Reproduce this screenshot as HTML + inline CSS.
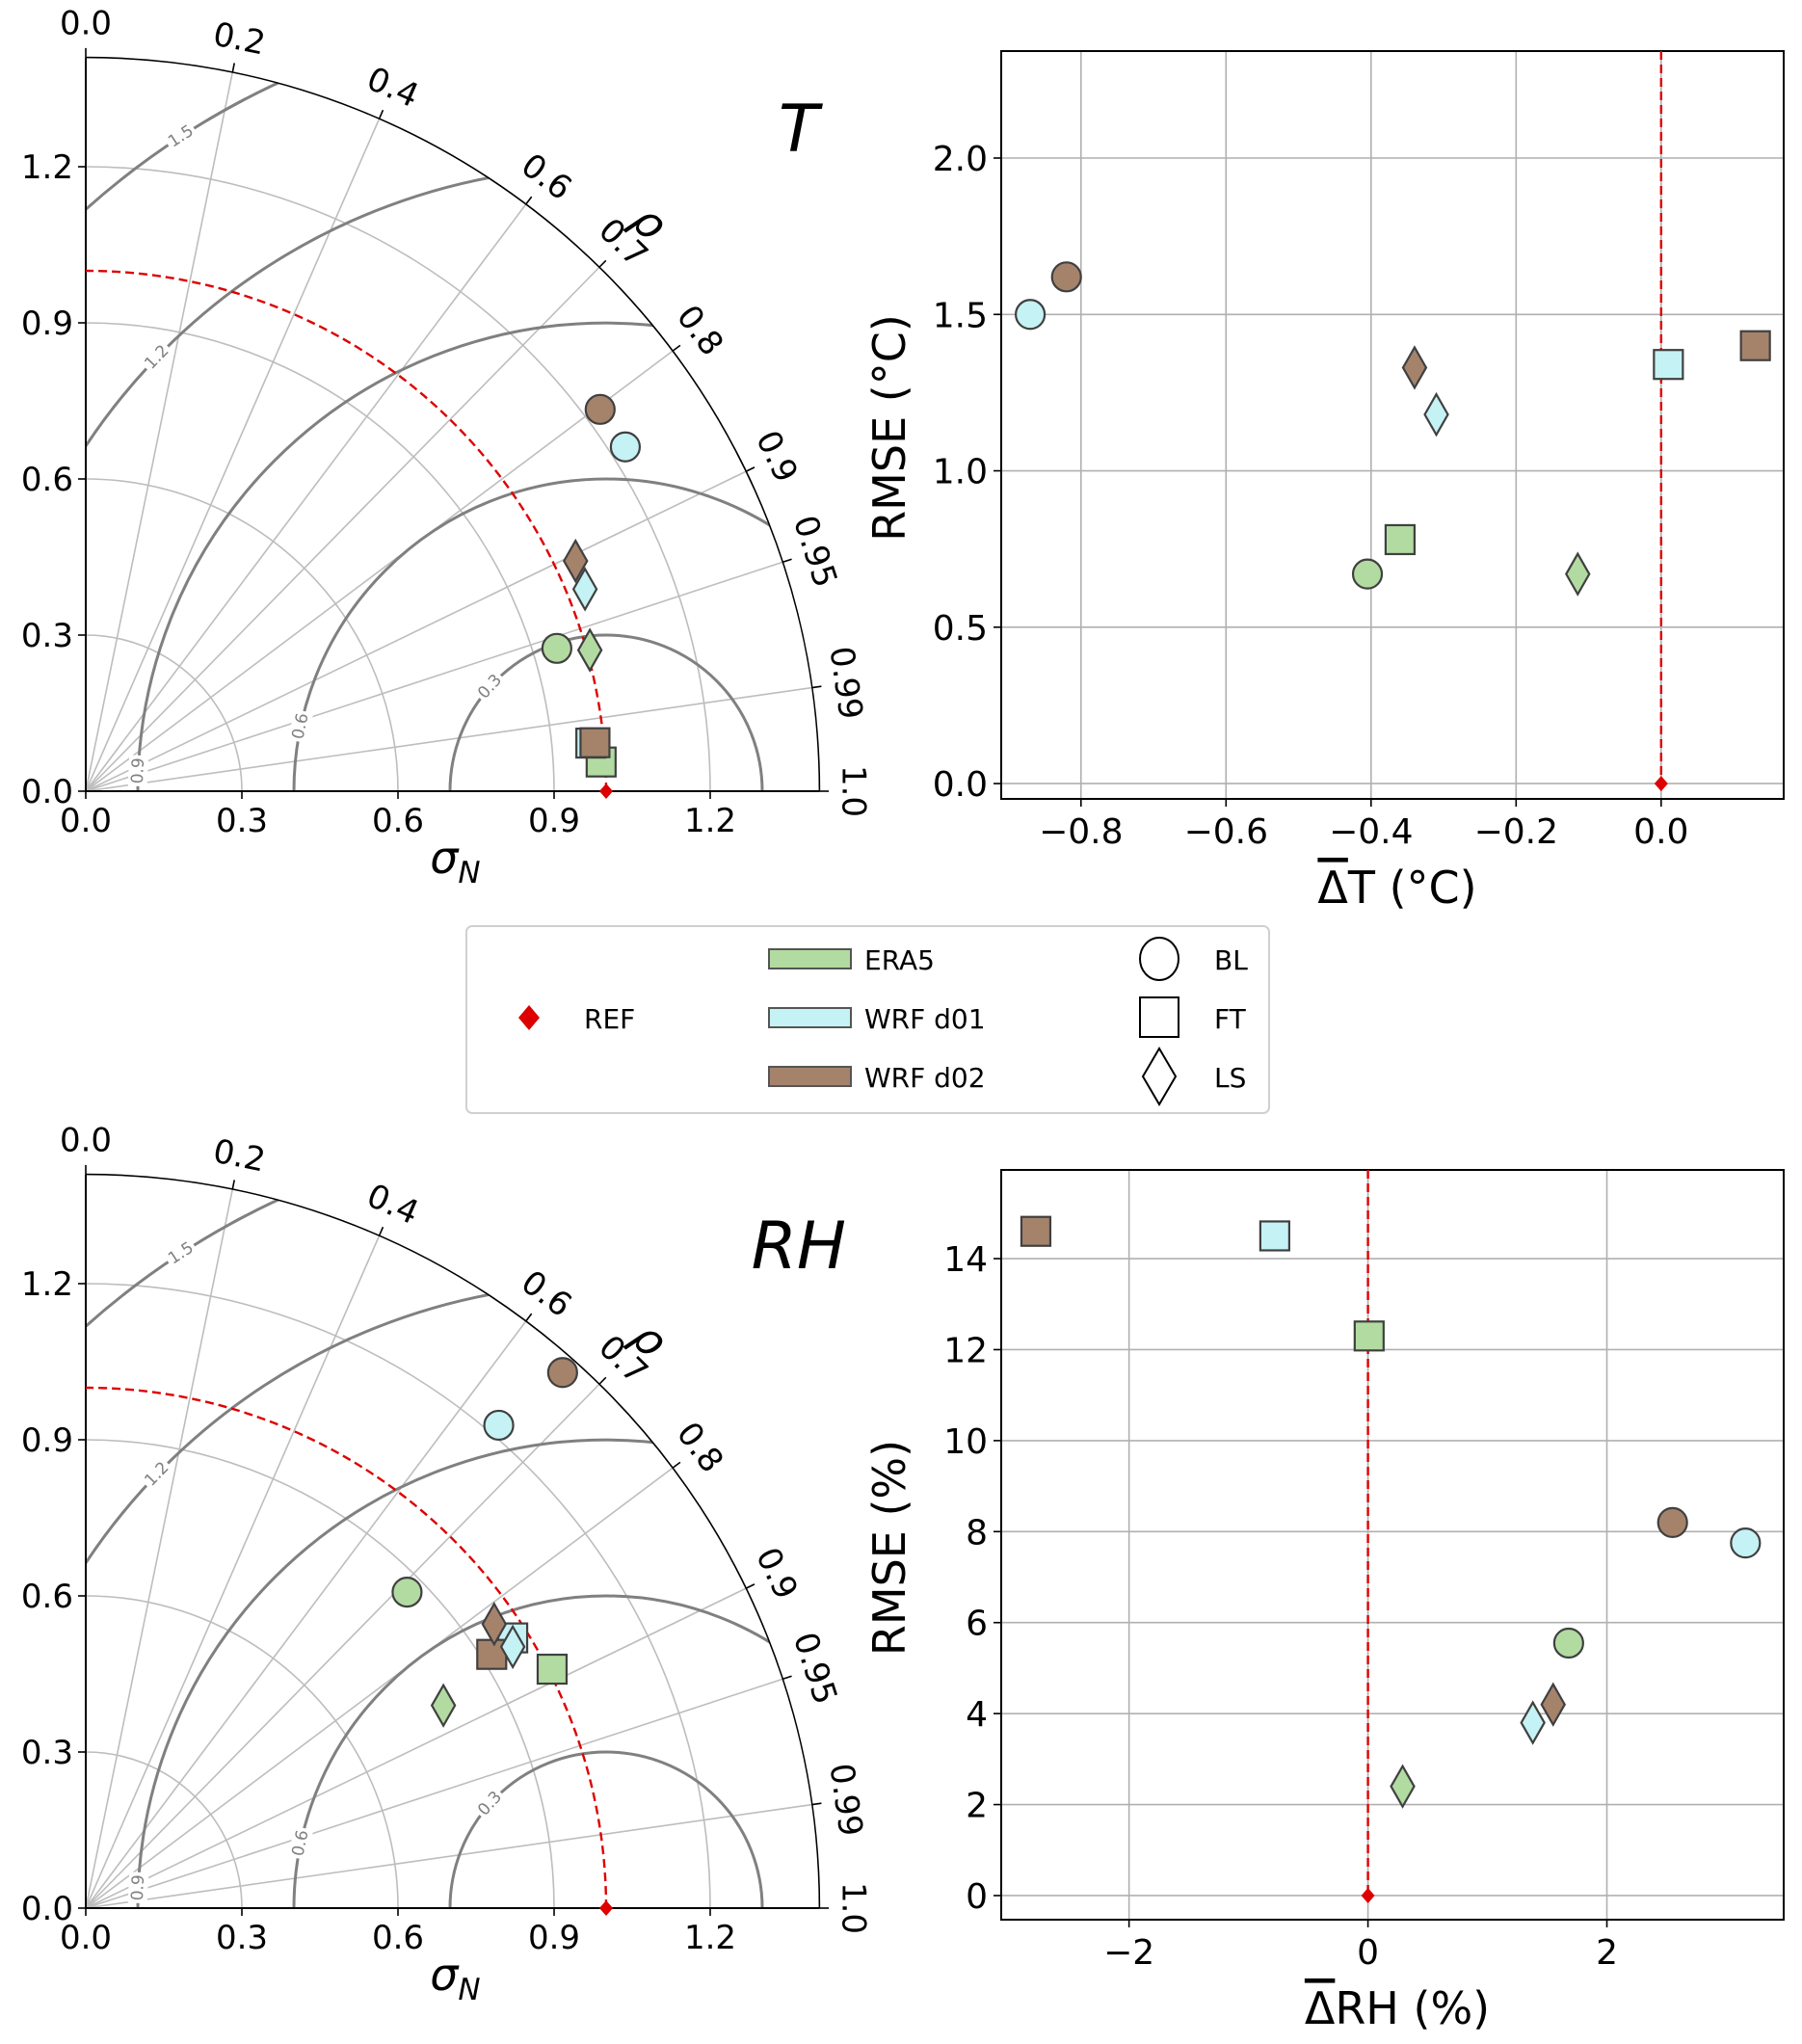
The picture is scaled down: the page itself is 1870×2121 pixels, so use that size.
<!DOCTYPE html>
<html><head><meta charset="utf-8">
<style>
html,body{margin:0;padding:0;background:#fff;}
svg{display:block;font-family:"DejaVu Sans","Liberation Sans",sans-serif;}
</style></head>
<body>
<svg id="fig" width="1870" height="2121" viewBox="0 0 1870 2121" xmlns="http://www.w3.org/2000/svg">
<g id="legend">
  <rect x="484" y="961" width="833" height="194" rx="6" fill="#fff" stroke="#d0d0d0" stroke-width="2"/>
  <path d="M549,1043 L560,1056 L549,1069 L538,1056 Z" fill="#dd0000"/>
  <text x="606" y="1067" font-size="28">REF</text>
  <rect x="798" y="985" width="85" height="20" fill="#b2dba1" stroke="#555" stroke-width="2"/>
  <text x="897" y="1006" font-size="28">ERA5</text>
  <rect x="798" y="1046" width="85" height="20" fill="#c5f2f4" stroke="#555" stroke-width="2"/>
  <text x="897" y="1067" font-size="28">WRF d01</text>
  <rect x="798" y="1107" width="85" height="20" fill="#a5836b" stroke="#555" stroke-width="2"/>
  <text x="897" y="1128" font-size="28">WRF d02</text>
  <ellipse cx="1203" cy="995" rx="20" ry="22" fill="none" stroke="#000" stroke-width="2"/>
  <text x="1260" y="1006" font-size="28">BL</text>
  <rect x="1183" y="1035" width="40" height="41" fill="none" stroke="#000" stroke-width="2"/>
  <text x="1260" y="1067" font-size="28">FT</text>
  <path d="M1203,1088 L1220,1117 L1203,1146 L1186,1117 Z" fill="none" stroke="#000" stroke-width="2"/>
  <text x="1260" y="1128" font-size="28">LS</text>
</g>
</svg>
<script>
// ---------- Data ----------
const groups = ["BL","BL","BL","FT","FT","FT","LS","LS","LS"];
const models = ["ERA5","WRF d01","WRF d02","ERA5","WRF d01","WRF d02","ERA5","WRF d01","WRF d02"];
// Taylor T
const tStd  = [0.946, 1.230, 1.231, 0.992, 0.975, 0.983, 1.006, 1.035, 1.040];
const tCorr = [0.957, 0.843, 0.803, 0.9984, 0.9955, 0.9955, 0.963, 0.927, 0.905];
// Taylor RH
const rhStd  = [0.866, 1.221, 1.378, 1.007, 0.971, 0.920, 0.790, 0.962, 0.956];
const rhCorr = [0.713, 0.650, 0.665, 0.890, 0.845, 0.848, 0.870, 0.853, 0.821];
// Scatter T
const tBias = [-0.405, -0.87, -0.82, -0.36, 0.01, 0.13, -0.115, -0.31, -0.34];
const tRmse = [0.67, 1.50, 1.62, 0.78, 1.34, 1.40, 0.67, 1.18, 1.33];
// Scatter RH
const rhBias = [1.68, 3.16, 2.55, 0.01, -0.78, -2.78, 0.29, 1.38, 1.55];
const rhRmse = [5.55, 7.75, 8.2, 12.3, 14.5, 14.6, 2.4, 3.8, 4.2];
// Ticks
const taylorTicks = [0.0, 0.3, 0.6, 0.9, 1.2];
const corrTicks = [0.0, 0.2, 0.4, 0.6, 0.7, 0.8, 0.9, 0.95, 0.99, 1.0];
const rmsdLevels = [0.3, 0.6, 0.9, 1.2, 1.5];
const tXTicks = [-0.8, -0.6, -0.4, -0.2, 0.0];
const tYTicks = [0.0, 0.5, 1.0, 1.5, 2.0];
const rhXTicks = [-2, 0, 2];
const rhYTicks = [0, 2, 4, 6, 8, 10, 12, 14];

const NS = "http://www.w3.org/2000/svg";
const fig = document.getElementById("fig");
const colors = {"ERA5":"#b2dba1","WRF d01":"#c5f2f4","WRF d02":"#a5836b"};
function el(tag, attrs, parent){
  const e = document.createElementNS(NS, tag);
  for (const k in attrs) e.setAttribute(k, attrs[k]);
  (parent||fig).appendChild(e);
  return e;
}
function marker(parent, shape, cx, cy, fill){
  let m;
  if (shape === "BL") m = el("circle", {cx:cx, cy:cy, r:15, fill:fill, stroke:"#404040", "stroke-width":2.2}, parent);
  else if (shape === "FT") m = el("rect", {x:cx-15, y:cy-15, width:30, height:30, fill:fill, stroke:"#404040", "stroke-width":2.2}, parent);
  else m = el("path", {d:`M${cx},${cy-21} L${cx+12},${cy} L${cx},${cy+21} L${cx-12},${cy} Z`, fill:fill, stroke:"#404040", "stroke-width":2.2}, parent);
  return m;
}

function taylor(ox, oy, stds, corrs, title, prefix){
  const S = 540, RMAX = 1.41;
  const g = el("g", {});
  
  
  const P = (x, y) => [ox + x*S, oy - y*S];
  taylorTicks.slice(1).forEach(r => {
    const a = el("path", {d:`M${ox+r*S},${oy} A${r*S},${r*S} 0 0 0 ${ox},${oy-r*S}`, fill:"none", stroke:"#bdbdbd", "stroke-width":1.6}, g);
    
    
  });
  corrTicks.forEach(c => {
    const th = Math.acos(c);
    if (c > 0 && c < 1) {
      const [x2, y2] = P(RMAX*Math.cos(th), RMAX*Math.sin(th));
      const l = el("line", {x1:ox, y1:oy, x2:x2, y2:y2, stroke:"#bdbdbd", "stroke-width":1.6}, g);
      
      
    }
    const [t1x, t1y] = P(RMAX*Math.cos(th), RMAX*Math.sin(th));
    const [t2x, t2y] = P((RMAX+0.018)*Math.cos(th), (RMAX+0.018)*Math.sin(th));
    el("line", {x1:t1x, y1:t1y, x2:t2x, y2:t2y, stroke:"#000", "stroke-width":1.6}, g);
    const [lx, ly] = P((RMAX+0.065)*Math.cos(th), (RMAX+0.065)*Math.sin(th));
    const deg = th*180/Math.PI;
    const t = el("text", {x:lx, y:ly, "font-size":34, "text-anchor":"middle", "dominant-baseline":"central",
      transform:`rotate(${90-deg} ${lx} ${ly})`}, g);
    t.textContent = c.toFixed(c === 0.95 || c === 0.99 ? 2 : 1);
    
    
  });
  const cid = prefix + "-clip";
  const defs = el("defs", {}, g);
  const cp = el("clipPath", {id:cid}, defs);
  el("path", {d:`M${ox},${oy} L${ox+RMAX*S},${oy} A${RMAX*S},${RMAX*S} 0 0 0 ${ox},${oy-RMAX*S} Z`}, cp);
  const cg = el("g", {"clip-path":`url(#${cid})`}, g);
  const labAng = {0.3:138, 0.6:168, 0.9:177.5, 1.2:136, 1.5:123};
  rmsdLevels.forEach(r => {
    const [cx, cy] = P(1, 0);
    const c = el("path", {d:`M${cx+r*S},${cy} A${r*S},${r*S} 0 0 0 ${cx-r*S},${cy}`, fill:"none", stroke:"#808080", "stroke-width":3}, cg);
    
    
  });
  rmsdLevels.forEach(r => {
    const phi = labAng[r]*Math.PI/180;
    const [lx, ly] = P(1 + r*Math.cos(phi), r*Math.sin(phi));
    const rot = -(labAng[r]-90);
    el("rect", {x:lx-16, y:ly-10, width:32, height:20, fill:"#fff", transform:`rotate(${rot} ${lx} ${ly})`}, g);
    const t = el("text", {x:lx, y:ly, "font-size":17, fill:"#808080", "text-anchor":"middle", "dominant-baseline":"central",
      transform:`rotate(${rot} ${lx} ${ly})`}, g);
    t.textContent = r.toFixed(1);
    
    
  });
  el("path", {d:`M${ox+RMAX*S},${oy} A${RMAX*S},${RMAX*S} 0 0 0 ${ox},${oy-RMAX*S}`, fill:"none", stroke:"#000", "stroke-width":1.6}, g);
  el("line", {x1:ox, y1:oy, x2:ox+RMAX*S, y2:oy, stroke:"#000", "stroke-width":2}, g);
  el("line", {x1:ox, y1:oy, x2:ox, y2:oy-RMAX*S, stroke:"#000", "stroke-width":2}, g);
  taylorTicks.forEach(v => {
    el("line", {x1:ox+v*S, y1:oy, x2:ox+v*S, y2:oy+8, stroke:"#000", "stroke-width":1.6}, g);
    el("line", {x1:ox, y1:oy-v*S, x2:ox-8, y2:oy-v*S, stroke:"#000", "stroke-width":1.6}, g);
    const tx = el("text", {x:ox+v*S, y:oy+42, "font-size":34, "text-anchor":"middle"}, g);
    tx.textContent = v.toFixed(1);
    
    
    if (v > 0) {
      const ty = el("text", {x:ox-13, y:oy-v*S+12, "font-size":34, "text-anchor":"end"}, g);
      ty.textContent = v.toFixed(1);
      
      
    }
  });
  const y0 = el("text", {x:ox-13, y:oy+12, "font-size":34, "text-anchor":"end"}, g);
  y0.textContent = "0.0";
  
  
  const ra = el("path", {d:`M${ox+S},${oy} A${S},${S} 0 0 0 ${ox},${oy-S}`, fill:"none", stroke:"#dd0000", "stroke-width":2.4, "stroke-dasharray":"9,5"}, g);
  
  
  const xl = el("text", {x:ox+0.71*S, y:oy+85, "font-size":46, "text-anchor":"middle", "font-style":"italic"}, g);
  xl.innerHTML = 'σ<tspan font-size="31" dy="10">N</tspan>';
  
  
  const [rx, ry] = P(1.54*Math.cos(0.79), 1.54*Math.sin(0.79));
  const rho = el("text", {x:rx, y:ry, "font-size":46, "font-style":"italic", "text-anchor":"middle", "dominant-baseline":"central", transform:`rotate(45 ${rx} ${ry})`}, g);
  rho.textContent = "ρ";
  
  
  const tt = el("text", {x:ox+1.37*S, y:oy-1.23*S, "font-size":68, "font-style":"italic", "text-anchor":"middle"}, g);
  tt.textContent = title;
  
  
  stds.forEach((s, i) => {
    const th = Math.acos(corrs[i]);
    const [px, py] = P(s*Math.cos(th), s*Math.sin(th));
    const m = marker(g, groups[i], px, py, colors[models[i]]);
    
    
  });
  const [fx, fy] = P(1, 0);
  const ref = el("path", {d:`M${fx},${fy-8} L${fx+7},${fy} L${fx},${fy+8} L${fx-7},${fy} Z`, fill:"#dd0000"}, g);
  
  
}

function scatter(box, xlim, ylim, xticks, yticks, xs, ys, xfmt, yfmt, xlabelPre, xlabelPost, ylabel, prefix){
  const [L, T, R, B] = box;
  const g = el("g", {});
  
  
  const X = v => L + (v - xlim[0])/(xlim[1]-xlim[0])*(R-L);
  const Y = v => B - (v - ylim[0])/(ylim[1]-ylim[0])*(B-T);
  xticks.forEach(v => {
    const gl = el("line", {x1:X(v), y1:T, x2:X(v), y2:B, stroke:"#b0b0b0", "stroke-width":1.6}, g);
    
    
    el("line", {x1:X(v), y1:B, x2:X(v), y2:B+8, stroke:"#000", "stroke-width":1.6}, g);
    const t = el("text", {x:X(v), y:B+46, "font-size":36, "text-anchor":"middle"}, g);
    t.textContent = xfmt(v);
    
    
  });
  yticks.forEach(v => {
    const gl = el("line", {x1:L, y1:Y(v), x2:R, y2:Y(v), stroke:"#b0b0b0", "stroke-width":1.6}, g);
    
    
    el("line", {x1:L-8, y1:Y(v), x2:L, y2:Y(v), stroke:"#000", "stroke-width":1.6}, g);
    const t = el("text", {x:L-14, y:Y(v)+13, "font-size":36, "text-anchor":"end"}, g);
    t.textContent = yfmt(v);
    
    
  });
  el("rect", {x:L, y:T, width:R-L, height:B-T, fill:"none", stroke:"#000", "stroke-width":2}, g);
  const zl = el("line", {x1:X(0), y1:T, x2:X(0), y2:Y(0), stroke:"#dd0000", "stroke-width":2.4, "stroke-dasharray":"9,5"}, g);
  
  
  xs.forEach((v, i) => {
    const m = marker(g, groups[i], X(v), Y(ys[i]), colors[models[i]]);
    
    
  });
  const rx = X(0), ry = Y(0);
  const ref = el("path", {d:`M${rx},${ry-8} L${rx+7},${ry} L${rx},${ry+8} L${rx-7},${ry} Z`, fill:"#dd0000"}, g);
  
  
  const cx = (L+R)/2 + 5;
  const xl = el("text", {x:cx, y:B+108, "font-size":46, "text-anchor":"middle"}, g);
  xl.innerHTML = `<tspan text-decoration="overline">Δ</tspan>${xlabelPre}${xlabelPost}`;
  
  
  const yx = L - 100, yy = (T+B)/2 + 3;
  const yl = el("text", {x:yx, y:yy, "font-size":46, "text-anchor":"middle", transform:`rotate(-90 ${yx} ${yy})`}, g);
  yl.textContent = ylabel;
  
  
}

taylor(89, 821, tStd, tCorr, "T", "t");
taylor(89, 1980, rhStd, rhCorr, "RH", "rh");
scatter([1039, 53, 1851, 829], [-0.910, 0.169], [-0.049, 2.342], tXTicks, tYTicks, tBias, tRmse,
  v => (v < 0 ? "\u2212" : "") + Math.abs(v).toFixed(1), v => v.toFixed(1), "T", " (°C)", "RMSE (°C)", "t");
scatter([1039, 1214, 1851, 1992], [-3.07, 3.48], [-0.53, 15.95], rhXTicks, rhYTicks, rhBias, rhRmse,
  v => (v < 0 ? "\u2212" : "") + Math.abs(v), v => String(v), "RH", " (%)", "RMSE (%)", "rh");
</script>
</body></html>
